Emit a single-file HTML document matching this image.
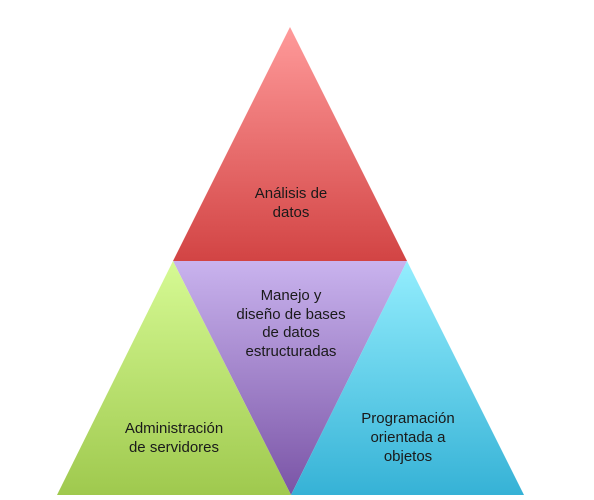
<!DOCTYPE html>
<html><head><meta charset="utf-8"><style>
body{margin:0;background:#fff;width:594px;height:500px;overflow:hidden}
svg{display:block}
text{font-family:"Liberation Sans",sans-serif;font-size:15px;fill:#1a1a1a;text-anchor:middle}
</style></head><body>
<svg width="594" height="500" viewBox="0 0 594 500">
<defs>
<linearGradient id="r" x1="0" y1="0" x2="0" y2="1"><stop offset="0" stop-color="#ff9a9a"/><stop offset="1" stop-color="#d24444"/></linearGradient>
<linearGradient id="p" x1="0" y1="0" x2="0" y2="1"><stop offset="0" stop-color="#c9b3ee"/><stop offset="1" stop-color="#7a54a6"/></linearGradient>
<linearGradient id="g" x1="0" y1="0" x2="0" y2="1"><stop offset="0" stop-color="#d6fa94"/><stop offset="1" stop-color="#9fc94e"/></linearGradient>
<linearGradient id="b" x1="0" y1="0" x2="0" y2="1"><stop offset="0" stop-color="#94eefe"/><stop offset="1" stop-color="#36b2d6"/></linearGradient>
</defs>
<polygon points="290,27 407,261 173,261" fill="url(#r)"/>
<polygon points="173,261 407,261 291,495" fill="url(#p)"/>
<polygon points="173,261 57,495 291,495" fill="url(#g)"/>
<polygon points="407,261 291,495 524,495" fill="url(#b)"/>
<text x="291" y="198">Análisis de</text>
<text x="291" y="217">datos</text>
<text x="291" y="300">Manejo y</text>
<text x="291" y="319">diseño de bases</text>
<text x="291" y="337">de datos</text>
<text x="291" y="356">estructuradas</text>
<text x="174" y="433">Administración</text>
<text x="174" y="452">de servidores</text>
<text x="408" y="423">Programación</text>
<text x="408" y="442">orientada a</text>
<text x="408" y="461">objetos</text>
</svg>
</body></html>
